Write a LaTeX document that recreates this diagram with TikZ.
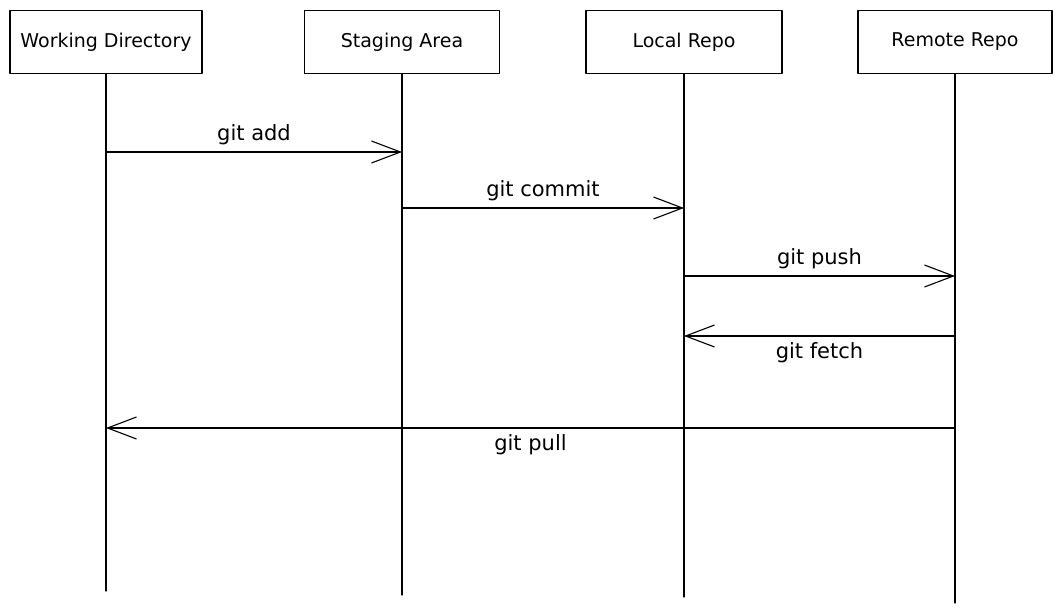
\documentclass[tikz,border=0pt]{standalone}
\usepackage{fontspec}
\setmainfont{DejaVu Sans}
\usetikzlibrary{arrows.meta}
\begin{document}
\begin{tikzpicture}[x=1pt,y=-1pt,font=\fontsize{19}{22}\selectfont, line join=round, line cap=round, >={Straight Barb[length=29pt,width=22pt]},
	lane/.style={draw,line width=1.1pt,minimum height=63pt,inner sep=0pt},
	life/.style={line width=1.1pt},
	msg/.style={->,line width=1.1pt},
	cmd/.style={font=\fontsize{21}{23}\selectfont}]
	\useasboundingbox (0,0) rectangle (1061,613);
	
	\foreach \name/\x/\w/\bot/\txt in {wd/106/192/591/Working Directory,sa/402/195/595/Staging Area,lr/684/196/597/Local Repo,rr/955/194/603/Remote Repo}
	{
		\node[lane,minimum width=\w pt] (\name) at (\x,42) {\txt};
		\coordinate (\name-end) at (\x,\bot);
		\draw[life] (\name) -- (\name-end);
	}
	
	\foreach \from/\to/\y/\side/\txt in {wd/sa/152/above/git add,sa/lr/208/above/git commit,lr/rr/276/above/git push,rr/lr/336/below/git fetch,rr/wd/428/below/git pull}
	\draw[msg] (\from |- 0,\y) -- (\to |- 0,\y) node[cmd,midway,\side=3pt]{\txt};
\end{tikzpicture}
\end{document}
